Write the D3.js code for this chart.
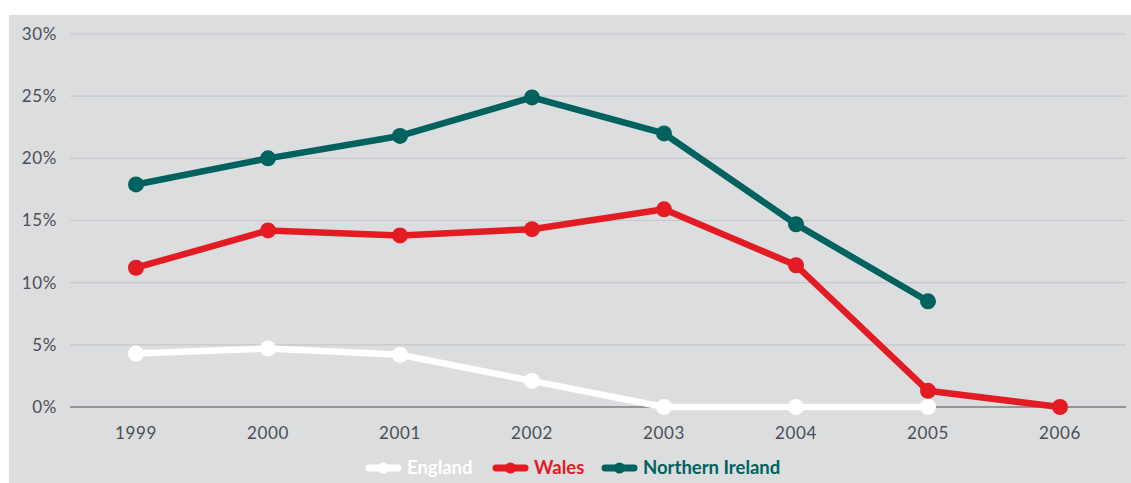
<!DOCTYPE html>
<html>
<head>
<meta charset="utf-8">
<script src="https://cdn.jsdelivr.net/npm/d3@7"></script>
<style>
  body { margin: 0; background: #fff; }
  svg { display: block; }
</style>
</head>
<body>
<div id="container"></div>
<script>
"use strict";

const width = 1131;
const height = 483;

// years on the x axis
const years = ["1999", "2000", "2001", "2002", "2003", "2004", "2005", "2006"];

// percentages per year (null = no data)
const england = [4.3, 4.7, 4.2, 2.1, 0, 0, 0, null];
const wales = [11.2, 14.2, 13.8, 14.3, 15.9, 11.4, 1.3, 0];
const northernIreland = [17.9, 20.0, 21.8, 24.9, 22.0, 14.7, 8.5, null];

const yTicks = [0, 5, 10, 15, 20, 25, 30];

const seriesNames = ["England", "Wales", "Northern Ireland"];
const seriesColors = ["#ffffff", "#e31b23", "#00625e"];
const seriesValues = [england, wales, northernIreland];

const textColor = "#4a4f55";

const svg = d3.select("#container").append("svg")
    .attr("width", width)
    .attr("height", height)
    .style("font-family", "Lato, 'Open Sans', sans-serif");

// grey panel
svg.append("rect")
    .attr("x", 9).attr("y", 15)
    .attr("width", width - 9).attr("height", height - 15)
    .attr("fill", "#dcdddf");

const x = d3.scaleBand().domain(years).range([70, 1126]);
const y = d3.scaleLinear().domain([0, 30]).range([407, 34]);

// gridlines
svg.append("g")
    .selectAll("line")
    .data(yTicks.filter(d => d > 0))
    .join("line")
    .attr("x1", 70).attr("x2", 1126)
    .attr("y1", d => y(d)).attr("y2", d => y(d))
    .attr("stroke", "#c6c8cb")
    .attr("stroke-width", 1.2);

// y labels
svg.append("g")
    .selectAll("text")
    .data(yTicks)
    .join("text")
    .attr("x", 57)
    .attr("y", d => y(d))
    .attr("dy", "0.35em")
    .attr("text-anchor", "end")
    .attr("fill", textColor)
    .style("font-size", "17px")
    .style("letter-spacing", "0.6px")
    .text(d => d + "%");

// baseline
svg.append("line")
    .attr("x1", 70).attr("x2", 1126)
    .attr("y1", y(0)).attr("y2", y(0))
    .attr("stroke", textColor)
    .attr("stroke-width", 1.2);

// x labels
svg.append("g")
    .selectAll("text")
    .data(years)
    .join("text")
    .attr("x", d => x(d) + x.bandwidth() / 2)
    .attr("y", 439)
    .attr("text-anchor", "middle")
    .attr("fill", textColor)
    .style("font-size", "17px")
    .style("letter-spacing", "0.6px")
    .text(d => d);

const line = d3.line()
    .defined(d => d.v !== null)
    .x(d => x(d.year) + x.bandwidth() / 2)
    .y(d => y(d.v));

seriesValues.forEach((vals, i) => {
    let pts = years.map((yr, j) => ({ year: yr, v: vals[j] }));
    let g = svg.append("g");
    g.append("path")
        .datum(pts)
        .attr("d", line)
        .attr("fill", "none")
        .attr("stroke", seriesColors[i])
        .attr("stroke-width", 6.5)
        .attr("stroke-linejoin", "round");
    g.selectAll("circle")
        .data(pts.filter(d => d.v !== null))
        .join("circle")
        .attr("cx", d => x(d.year) + x.bandwidth() / 2)
        .attr("cy", d => y(d.v))
        .attr("r", 8)
        .attr("fill", seriesColors[i]);
});

// legend
const legendX = [366, 493, 602];
const legend = svg.append("g");
seriesNames.forEach((name, i) => {
    let lx = legendX[i];
    legend.append("line")
        .attr("x1", lx + 3).attr("x2", lx + 32)
        .attr("y1", 468).attr("y2", 468)
        .attr("stroke", seriesColors[i])
        .attr("stroke-width", 7)
        .attr("stroke-linecap", "round");
    legend.append("circle")
        .attr("cx", lx + 17.5).attr("cy", 468)
        .attr("r", 5.5)
        .attr("fill", seriesColors[i]);
    legend.append("text")
        .attr("x", lx + 41)
        .attr("y", 468)
        .attr("dy", "0.35em")
        .attr("fill", seriesColors[i])
        .style("font-size", "18.5px")
        .style("font-weight", "bold")
        .text(name);
});
</script>
</body>
</html>
